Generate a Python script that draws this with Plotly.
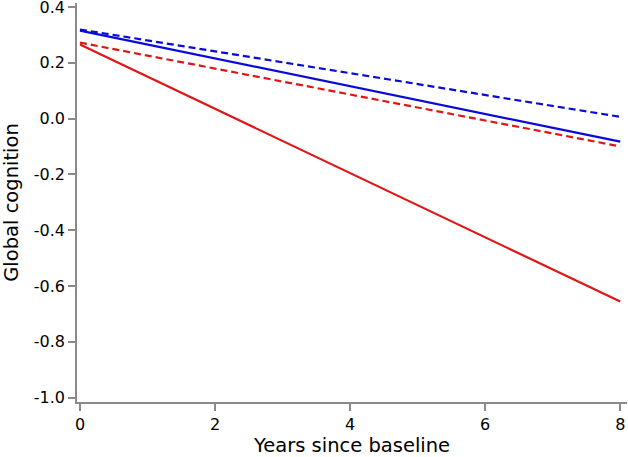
import plotly.graph_objects as go

years = [0, 8]
blue_solid = [0.315, -0.083]
blue_dash = [0.319, 0.006]
red_dash = [0.272, -0.100]
red_solid = [0.265, -0.656]

x_ticks = [0, 2, 4, 6, 8]
y_ticks = [0.4, 0.2, 0.0, -0.2, -0.4, -0.6, -0.8, -1.0]
y_labels = ["0.4", "0.2", "0.0", "-0.2", "-0.4", "-0.6", "-0.8", "-1.0"]

BLUE = "#0A0AD8"
RED = "#E01515"

fig = go.Figure()
fig.add_trace(go.Scatter(x=years, y=blue_dash, mode="lines",
                         line=dict(color=BLUE, width=2.2, dash="7px,4px")))
fig.add_trace(go.Scatter(x=years, y=blue_solid, mode="lines",
                         line=dict(color=BLUE, width=2.2)))
fig.add_trace(go.Scatter(x=years, y=red_dash, mode="lines",
                         line=dict(color=RED, width=2.2, dash="7px,4px")))
fig.add_trace(go.Scatter(x=years, y=red_solid, mode="lines",
                         line=dict(color=RED, width=2.2)))

fig.update_layout(
    width=628, height=457,
    margin=dict(l=77, r=1, t=3, b=55),
    paper_bgcolor="white", plot_bgcolor="white",
    showlegend=False,
    font=dict(family="DejaVu Sans", size=16, color="black"),
)
fig.update_xaxes(
    range=[-0.044, 8.1], tickvals=x_ticks, ticktext=[str(v) for v in x_ticks],
    showgrid=False, zeroline=False, automargin=False, ticklabeloverflow="allow",
    showline=True, linecolor="#8a8a8a", linewidth=1.5,
    ticks="outside", ticklen=7, tickcolor="#8a8a8a", tickwidth=1.5,
    title=dict(text="Years since baseline", font=dict(size=19.5), standoff=0),
)
fig.update_yaxes(
    range=[-1.016, 0.414], tickvals=y_ticks, ticktext=y_labels,
    showgrid=False, zeroline=False, automargin=False, ticklabeloverflow="allow",
    showline=True, linecolor="#8a8a8a", linewidth=1.5,
    ticks="outside", ticklen=7, tickcolor="#8a8a8a", tickwidth=1.5,
    title=dict(text="Global cognition", font=dict(size=19.5), standoff=11),
)

fig.write_html("out.html", config={"displayModeBar": False},
               post_script="document.body.style.margin='0';")
